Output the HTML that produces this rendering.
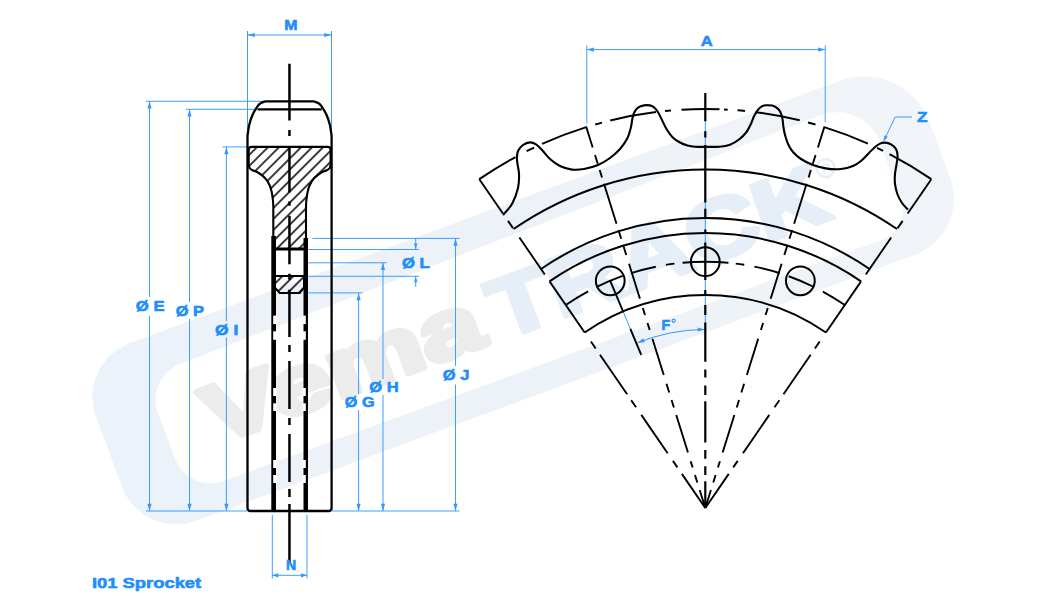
<!DOCTYPE html>
<html><head><meta charset="utf-8"><title>I01 Sprocket</title>
<style>
html,body{margin:0;padding:0;background:#fff;}
body{width:1050px;height:600px;overflow:hidden;font-family:"Liberation Sans",sans-serif;}
svg{display:block;}
text{font-family:"Liberation Sans",sans-serif;}
</style></head><body>
<svg width="1050" height="600" viewBox="0 0 1050 600">
<rect width="1050" height="600" fill="#fff"/>
<defs><linearGradient id="wg" gradientUnits="userSpaceOnUse" x1="-56" y1="0" x2="830" y2="0"><stop offset="0" stop-color="#ecf2f9"/><stop offset="0.55" stop-color="#edf2f8"/><stop offset="1" stop-color="#f1f5f9"/></linearGradient></defs>
<g transform="rotate(-20.3)">
<path d="M-54.50,424.00 A57,57 0 0 1 2.50,367.00 L759.50,367.00 A70,70 0 0 1 829.50,437.00 L829.50,496.50 A60,60 0 0 1 769.50,556.50 L3.50,556.50 A58,58 0 0 1 -54.50,498.50 Z" fill="url(#wg)"/>
<path d="M5.00,441.89 A38,38 0 0 1 42.38,403.89 L729.25,392.76 A46,46 0 0 1 776.00,438.75 L776.00,498.90 A32,32 0 0 1 743.90,530.90 L42.88,528.62 A38,38 0 0 1 5.00,490.62 Z" fill="#ffffff"/>
<text x="48" y="492" font-size="82" font-weight="bold" fill="#ececec" stroke="#ececec" stroke-width="6" stroke-linejoin="round" textLength="290" lengthAdjust="spacingAndGlyphs">Vema</text>
<text x="353" y="493" font-size="84" font-weight="bold" fill="#e6eef7" stroke="#e6eef7" stroke-width="5" stroke-linejoin="round" textLength="354" lengthAdjust="spacingAndGlyphs">TRACK</text>
<circle cx="716" cy="444" r="9" fill="none" stroke="#e6eef7" stroke-width="2.5"/>
<text x="711.5" y="449" font-size="13" font-weight="bold" fill="#e6eef7">R</text>
</g>
<line x1="146" y1="101.3" x2="265" y2="101.3" stroke="#3399ff" stroke-width="0.95" />
<line x1="186" y1="109.3" x2="257" y2="109.3" stroke="#3399ff" stroke-width="0.95" />
<line x1="222.5" y1="146.9" x2="248" y2="146.9" stroke="#3399ff" stroke-width="0.95" />
<line x1="146" y1="511.0" x2="247" y2="511.0" stroke="#3399ff" stroke-width="0.95" />
<line x1="332" y1="511.0" x2="459.5" y2="511.0" stroke="#3399ff" stroke-width="0.95" />
<line x1="312.3" y1="238.4" x2="459.5" y2="238.4" stroke="#3399ff" stroke-width="0.95" />
<line x1="307" y1="249.5" x2="419" y2="249.5" stroke="#3399ff" stroke-width="0.95" />
<line x1="307" y1="262.8" x2="386.6" y2="262.8" stroke="#3399ff" stroke-width="0.95" />
<line x1="307" y1="276.3" x2="419" y2="276.3" stroke="#3399ff" stroke-width="0.95" />
<line x1="307" y1="292.9" x2="362.6" y2="292.9" stroke="#3399ff" stroke-width="0.95" />
<line x1="149.5" y1="101.3" x2="149.5" y2="297" stroke="#3399ff" stroke-width="0.95" />
<line x1="149.5" y1="316" x2="149.5" y2="511.0" stroke="#3399ff" stroke-width="0.95" />
<polygon points="149.50,101.30 151.60,108.60 147.40,108.60" fill="#3399ff"/>
<polygon points="149.50,511.00 147.40,503.70 151.60,503.70" fill="#3399ff"/>
<line x1="189.5" y1="109.3" x2="189.5" y2="302" stroke="#3399ff" stroke-width="0.95" />
<line x1="189.5" y1="319" x2="189.5" y2="511.0" stroke="#3399ff" stroke-width="0.95" />
<polygon points="189.50,109.30 191.60,116.60 187.40,116.60" fill="#3399ff"/>
<polygon points="189.50,511.00 187.40,503.70 191.60,503.70" fill="#3399ff"/>
<line x1="226.4" y1="146.9" x2="226.4" y2="321" stroke="#3399ff" stroke-width="0.95" />
<line x1="226.4" y1="337.5" x2="226.4" y2="511.0" stroke="#3399ff" stroke-width="0.95" />
<polygon points="226.40,146.90 228.50,154.20 224.30,154.20" fill="#3399ff"/>
<polygon points="226.40,511.00 224.30,503.70 228.50,503.70" fill="#3399ff"/>
<line x1="358.6" y1="292.9" x2="358.6" y2="394" stroke="#3399ff" stroke-width="0.95" />
<line x1="358.6" y1="410" x2="358.6" y2="511.0" stroke="#3399ff" stroke-width="0.95" />
<polygon points="358.60,292.90 360.70,300.20 356.50,300.20" fill="#3399ff"/>
<polygon points="358.60,511.00 356.50,503.70 360.70,503.70" fill="#3399ff"/>
<line x1="383.0" y1="262.8" x2="383.0" y2="379" stroke="#3399ff" stroke-width="0.95" />
<line x1="383.0" y1="395" x2="383.0" y2="511.0" stroke="#3399ff" stroke-width="0.95" />
<polygon points="383.00,262.80 385.10,270.10 380.90,270.10" fill="#3399ff"/>
<polygon points="383.00,511.00 380.90,503.70 385.10,503.70" fill="#3399ff"/>
<line x1="455.5" y1="238.4" x2="455.5" y2="366" stroke="#3399ff" stroke-width="0.95" />
<line x1="455.5" y1="384.5" x2="455.5" y2="511.0" stroke="#3399ff" stroke-width="0.95" />
<polygon points="455.50,238.40 457.60,245.70 453.40,245.70" fill="#3399ff"/>
<polygon points="455.50,511.00 453.40,503.70 457.60,503.70" fill="#3399ff"/>
<line x1="415.7" y1="238.4" x2="415.7" y2="249.5" stroke="#3399ff" stroke-width="0.95" />
<polygon points="415.70,249.50 414.00,243.50 417.40,243.50" fill="#3399ff"/>
<line x1="415.7" y1="276.3" x2="415.7" y2="287" stroke="#3399ff" stroke-width="0.95" />
<polygon points="415.70,276.30 417.40,282.30 414.00,282.30" fill="#3399ff"/>
<line x1="247.5" y1="31" x2="247.5" y2="130" stroke="#3399ff" stroke-width="0.95" />
<line x1="331.5" y1="31" x2="331.5" y2="130" stroke="#3399ff" stroke-width="0.95" />
<line x1="247.5" y1="35" x2="331.5" y2="35" stroke="#3399ff" stroke-width="0.95" />
<polygon points="247.50,35.00 254.80,32.90 254.80,37.10" fill="#3399ff"/>
<polygon points="331.50,35.00 324.20,37.10 324.20,32.90" fill="#3399ff"/>
<line x1="272.3" y1="515" x2="272.3" y2="578.5" stroke="#3399ff" stroke-width="0.95" />
<line x1="307" y1="515" x2="307" y2="578.5" stroke="#3399ff" stroke-width="0.95" />
<line x1="272.3" y1="575.3" x2="307" y2="575.3" stroke="#3399ff" stroke-width="0.95" />
<polygon points="272.30,575.30 278.30,573.20 278.30,577.40" fill="#3399ff"/>
<polygon points="307.00,575.30 301.00,577.40 301.00,573.20" fill="#3399ff"/>
<defs><pattern id="h" width="7.8" height="7.8" patternUnits="userSpaceOnUse" patternTransform="translate(1.5,0) rotate(-45)"><line x1="-1" y1="3.9" x2="9" y2="3.9" stroke="#000" stroke-width="1.5"/></pattern></defs>
<path d="M247.5,508 L247.5,136 C247.78,134.17 248.37,128.50 249.20,125.00C250.03,121.50 251.12,118.12 252.50,115.00C253.88,111.88 256.08,108.30 257.50,106.30C258.92,104.30 259.67,103.83 261.00,103.00C262.33,102.17 264.75,101.58 265.50,101.30 L313.60,101.30C314.35,101.58 316.77,102.17 318.10,103.00C319.43,103.83 320.18,104.30 321.60,106.30C323.02,108.30 325.22,111.88 326.60,115.00C327.98,118.12 329.07,121.50 329.90,125.00C330.73,128.50 331.32,134.17 331.60,136.00 L331.6,508 Q331.6,511 328.6,511 L250.5,511 Q247.5,511 247.5,508 Z" fill="none" stroke="#000" stroke-width="2.3" stroke-linejoin="round"/>
<line x1="257.5" y1="109.3" x2="321.7" y2="109.3" stroke="#000" stroke-width="2.2" />
<path d="M251.5,146.9 L327.8,146.9 Q330.6,146.9 330.6,150 L330.6,164.5 C330.45,165.08 330.33,167.03 329.70,168.00C329.07,168.97 328.20,169.55 326.80,170.30C325.40,171.05 323.38,171.22 321.30,172.50C319.22,173.78 316.22,175.92 314.30,178.00C312.38,180.08 310.92,182.67 309.80,185.00C308.68,187.33 308.17,189.50 307.60,192.00C307.03,194.50 306.67,197.67 306.40,200.00C306.13,202.33 306.07,205.00 306.00,206.00 L306,248.6 L273.3,248.6 L273.3,206 C273.23,205.00 273.17,202.33 272.90,200.00C272.63,197.67 272.27,194.50 271.70,192.00C271.13,189.50 270.62,187.33 269.50,185.00C268.38,182.67 266.92,180.08 265.00,178.00C263.08,175.92 260.08,173.78 258.00,172.50C255.92,171.22 253.90,171.05 252.50,170.30C251.10,169.55 250.23,168.97 249.60,168.00C248.97,167.03 248.85,165.08 248.70,164.50 L248.7,150 Q248.7,146.9 251.5,146.9 Z" fill="url(#h)" stroke="#000" stroke-width="2.1" stroke-linejoin="round"/>
<path d="M275,276 L304,276 L304,287.7 L299.7,293 L279.7,293 L275,287.7 Z" fill="url(#h)" stroke="#000" stroke-width="2.0" stroke-linejoin="round"/>
<line x1="273.3" y1="249.3" x2="306" y2="249.3" stroke="#000" stroke-width="2.4" />
<line x1="273.65" y1="236" x2="273.65" y2="511" stroke="#000" stroke-width="4.7" />
<line x1="305.75" y1="238" x2="305.75" y2="511" stroke="#000" stroke-width="4.5" />
<rect x="273.2" y="315.6" width="3.6" height="8.5" fill="#fff"/>
<rect x="302.6" y="315.6" width="3.2" height="8.5" fill="#fff"/>
<rect x="273.2" y="331.3" width="3.6" height="8.5" fill="#fff"/>
<rect x="302.6" y="331.3" width="3.2" height="8.5" fill="#fff"/>
<rect x="273.2" y="388" width="3.6" height="8.0" fill="#fff"/>
<rect x="302.6" y="388" width="3.2" height="8.0" fill="#fff"/>
<rect x="273.2" y="403.3" width="3.6" height="7.7" fill="#fff"/>
<rect x="302.6" y="403.3" width="3.2" height="7.7" fill="#fff"/>
<rect x="273.2" y="460" width="3.6" height="8.0" fill="#fff"/>
<rect x="302.6" y="460" width="3.2" height="8.0" fill="#fff"/>
<rect x="273.2" y="475" width="3.6" height="8.0" fill="#fff"/>
<rect x="302.6" y="475" width="3.2" height="8.0" fill="#fff"/>
<path d="M289.45,63.8L289.45,120.5M289.45,130L289.45,136M289.45,146L289.45,192.5M289.45,201.6L289.45,205.8M289.45,215.7L289.45,264.3M289.45,273.7L289.45,279.7M289.45,289.7L289.45,337M289.45,345L289.45,352M289.45,361L289.45,409M289.45,418L289.45,425M289.45,434L289.45,482M289.45,489L289.45,497M289.45,504L289.45,562" stroke="#000" stroke-width="2.5" fill="none"/>
<text x="284.2" y="30.20" font-size="14.5" font-weight="bold" fill="#1f8efa" stroke="#1f8efa" stroke-width="0.6" textLength="13.3" lengthAdjust="spacingAndGlyphs" >M</text>
<text x="286" y="570.40" font-size="14.5" font-weight="bold" fill="#1f8efa" stroke="#1f8efa" stroke-width="0.6" textLength="10.2" lengthAdjust="spacingAndGlyphs" >N</text>
<text x="135.8" y="311.30" font-size="14.5" font-weight="bold" fill="#1f8efa" stroke="#1f8efa" stroke-width="0.6" textLength="28.8" lengthAdjust="spacingAndGlyphs" >Ø E</text>
<text x="175.7" y="315.60" font-size="14.5" font-weight="bold" fill="#1f8efa" stroke="#1f8efa" stroke-width="0.6" textLength="28.3" lengthAdjust="spacingAndGlyphs" >Ø P</text>
<text x="215.1" y="334.50" font-size="14.5" font-weight="bold" fill="#1f8efa" stroke="#1f8efa" stroke-width="0.6" textLength="23.2" lengthAdjust="spacingAndGlyphs" >Ø I</text>
<text x="402.0" y="268.20" font-size="14.5" font-weight="bold" fill="#1f8efa" stroke="#1f8efa" stroke-width="0.6" textLength="27.8" lengthAdjust="spacingAndGlyphs" >Ø L</text>
<text x="344.8" y="407.20" font-size="14.5" font-weight="bold" fill="#1f8efa" stroke="#1f8efa" stroke-width="0.6" textLength="29.8" lengthAdjust="spacingAndGlyphs" >Ø G</text>
<text x="369.2" y="391.50" font-size="14.5" font-weight="bold" fill="#1f8efa" stroke="#1f8efa" stroke-width="0.6" textLength="29.4" lengthAdjust="spacingAndGlyphs" >Ø H</text>
<text x="442.8" y="380.10" font-size="14.5" font-weight="bold" fill="#1f8efa" stroke="#1f8efa" stroke-width="0.6" textLength="26.6" lengthAdjust="spacingAndGlyphs" >Ø J</text>
<text x="92" y="587.90" font-size="15.3" font-weight="bold" fill="#1f8efa" stroke="#1f8efa" stroke-width="0.6" textLength="109.2" lengthAdjust="spacingAndGlyphs" >I01 Sprocket</text>
<line x1="705.3" y1="118" x2="705.3" y2="332" stroke="#3399ff" stroke-width="1.0" />
<line x1="610.25" y1="280.78" x2="641.24" y2="354.86" stroke="#3399ff" stroke-width="1.0" />
<line x1="586.8" y1="45.3" x2="586.8" y2="123.5" stroke="#3399ff" stroke-width="0.95" />
<line x1="825.2" y1="45.3" x2="825.2" y2="122.5" stroke="#3399ff" stroke-width="0.95" />
<line x1="586.8" y1="49.6" x2="825.2" y2="49.6" stroke="#3399ff" stroke-width="0.95" />
<polygon points="586.80,49.60 593.80,47.50 593.80,51.70" fill="#3399ff"/>
<polygon points="825.20,49.60 818.20,51.70 818.20,47.50" fill="#3399ff"/>
<text x="700.7" y="45.50" font-size="14.5" font-weight="bold" fill="#1f8efa" stroke="#1f8efa" stroke-width="0.6" textLength="12" lengthAdjust="spacingAndGlyphs" >A</text>
<path d="M637.57,342.85 A178.5,178.5 0 0 1 704.68,329.50" fill="none" stroke="#3399ff" stroke-width="1.0" />
<polygon points="637.57,342.85 643.25,338.25 644.84,342.14" fill="#3399ff"/>
<polygon points="704.68,329.50 697.68,331.60 697.68,327.40" fill="#3399ff"/>
<text x="661.4" y="329.60" font-size="14.5" font-weight="bold" fill="#1f8efa" stroke="#1f8efa" stroke-width="0.6" textLength="8.6" lengthAdjust="spacingAndGlyphs" >F</text>
<circle cx="673.6" cy="320.8" r="1.6" fill="none" stroke="#1f8efa" stroke-width="1.1"/>
<path d="M912,117 L895.2,117 L884.2,140" fill="none" stroke="#3399ff" stroke-width="1"/>
<polygon points="883.30,141.80 884.48,135.16 887.73,136.71" fill="#3399ff"/>
<text x="917" y="122.30" font-size="14.5" font-weight="bold" fill="#1f8efa" stroke="#1f8efa" stroke-width="0.6" textLength="10.5" lengthAdjust="spacingAndGlyphs" >Z</text>
<path d="M513.57,229.03 A338.5,338.5 0 0 1 897.03,229.03" fill="none" stroke="#000" stroke-width="2.0" />
<path d="M541.04,269.00 A290.0,290.0 0 0 1 869.56,269.00" fill="none" stroke="#000" stroke-width="2.0" />
<path d="M549.54,281.37 A275.0,275.0 0 0 1 861.06,281.37" fill="none" stroke="#000" stroke-width="2.0" />
<path d="M584.66,332.46 A213.0,213.0 0 0 1 825.94,332.46" fill="none" stroke="#000" stroke-width="2.0" />
<path d="M479.30,179.17 A399.0,399.0 0 0 1 515.53,157.02" fill="none" stroke="#000" stroke-width="2.0" />
<path d="M542.06,143.92 A399.0,399.0 0 0 1 586.32,127.15" fill="none" stroke="#000" stroke-width="2.0" />
<path d="M824.28,127.15 A399.0,399.0 0 0 1 867.91,143.64" fill="none" stroke="#000" stroke-width="2.0" />
<path d="M889.54,154.08 A399.0,399.0 0 0 1 931.30,179.17" fill="none" stroke="#000" stroke-width="2.0" />
<path d="M526.64,151.23 A399.0,399.0 0 0 1 534.15,147.57" fill="none" stroke="#000" stroke-width="2.0" />
<path d="M877.07,147.87 A399.0,399.0 0 0 1 883.08,150.80" fill="none" stroke="#000" stroke-width="2.0" />
<path d="M595.25,124.48 A399.0,399.0 0 0 1 602.00,122.60" fill="none" stroke="#000" stroke-width="2.0" />
<path d="M610.25,120.49 A399.0,399.0 0 0 1 656.00,112.06" fill="none" stroke="#000" stroke-width="2.0" />
<path d="M665.00,111.04 A399.0,399.0 0 0 1 671.00,110.48" fill="none" stroke="#000" stroke-width="2.0" />
<path d="M681.50,109.71 A399.0,399.0 0 0 1 719.50,109.25" fill="none" stroke="#000" stroke-width="2.0" />
<path d="M724.00,109.44 A399.0,399.0 0 0 1 727.70,109.63" fill="none" stroke="#000" stroke-width="2.0" />
<path d="M737.50,110.30 A399.0,399.0 0 0 1 745.00,110.98" fill="none" stroke="#000" stroke-width="2.0" />
<path d="M755.50,112.17 A399.0,399.0 0 0 1 799.70,120.33" fill="none" stroke="#000" stroke-width="2.0" />
<path d="M808.00,122.44 A399.0,399.0 0 0 1 815.50,124.52" fill="none" stroke="#000" stroke-width="2.0" />
<path d="M566.15,304.77 A246.3,246.3 0 0 1 588.15,291.34" fill="none" stroke="#000" stroke-width="1.9" />
<path d="M597.33,286.63 A246.3,246.3 0 0 1 622.68,275.97" fill="none" stroke="#000" stroke-width="1.9" />
<path d="M631.24,273.10 A246.3,246.3 0 0 1 655.77,266.73" fill="none" stroke="#000" stroke-width="1.9" />
<path d="M665.92,264.87 A246.3,246.3 0 0 1 674.43,263.64" fill="none" stroke="#000" stroke-width="1.9" />
<path d="M682.55,262.75 A246.3,246.3 0 0 1 728.48,262.79" fill="none" stroke="#000" stroke-width="1.9" />
<path d="M735.74,263.59 A246.3,246.3 0 0 1 744.25,264.80" fill="none" stroke="#000" stroke-width="1.9" />
<path d="M754.40,266.64 A246.3,246.3 0 0 1 779.77,273.23" fill="none" stroke="#000" stroke-width="1.9" />
<path d="M788.73,276.26 A246.3,246.3 0 0 1 814.04,287.01" fill="none" stroke="#000" stroke-width="1.9" />
<path d="M822.82,291.55 A246.3,246.3 0 0 1 844.81,305.02" fill="none" stroke="#000" stroke-width="1.9" />
<circle cx="610.25" cy="280.78" r="14.4" fill="none" stroke="#000" stroke-width="2.0"/>
<circle cx="705.30" cy="261.70" r="14.4" fill="none" stroke="#000" stroke-width="2.0"/>
<circle cx="800.35" cy="280.78" r="14.4" fill="none" stroke="#000" stroke-width="2.0"/>
<path d="M705.30,508.00L681.85,473.88M677.38,467.37L672.90,460.86M667.63,453.20L641.30,414.87M636.09,407.29L631.21,400.20M627.14,394.27L599.95,354.71M595.70,348.53L590.89,341.53M584.66,332.46L549.54,281.37M544.78,274.44L519.41,237.52M512.95,228.13L507.96,220.87M502.92,213.54L479.30,179.17" fill="none" stroke="#000" stroke-width="1.9"/>
<path d="M705.30,508.00L728.75,473.88M733.22,467.37L737.70,460.86M742.97,453.20L769.30,414.87M774.51,407.29L779.39,400.20M783.46,394.27L810.65,354.71M814.90,348.53L819.71,341.53M825.94,332.46L861.06,281.37M865.82,274.44L891.19,237.52M897.65,228.13L902.64,220.87M907.68,213.54L931.30,179.17" fill="none" stroke="#000" stroke-width="1.9"/>
<path d="M592.67,147.50L586.14,126.58M597.75,163.75L595.01,155.00M602.04,177.50L599.70,170.00M616.49,223.75L604.00,183.75M621.18,238.75L618.45,230.00M626.26,255.00L623.13,245.00M639.93,298.75L628.99,263.75M645.00,315.00L642.82,308.00M649.69,330.00L647.50,323.00M663.75,375.00L652.42,338.75M669.22,392.50L666.48,383.75M673.90,407.50L671.56,400.00M687.96,452.50L676.24,415.00M692.65,467.50L690.69,461.25M697.33,482.50L694.99,475.00M705.30,508.00L699.68,490.00" fill="none" stroke="#000" stroke-width="1.9"/>
<path d="M817.93,147.50L824.46,126.58M812.85,163.75L815.59,155.00M808.56,177.50L810.90,170.00M794.11,223.75L806.60,183.75M789.42,238.75L792.15,230.00M784.34,255.00L787.47,245.00M770.67,298.75L781.61,263.75M765.60,315.00L767.78,308.00M760.91,330.00L763.10,323.00M746.85,375.00L758.18,338.75M741.38,392.50L744.12,383.75M736.70,407.50L739.04,400.00M722.64,452.50L734.36,415.00M717.95,467.50L719.91,461.25M713.27,482.50L715.61,475.00M705.30,508.00L710.92,490.00" fill="none" stroke="#000" stroke-width="1.9"/>
<path d="M641.24,354.86L630.36,328.84M623.10,311.50L610.25,280.78" fill="none" stroke="#000" stroke-width="1.9"/>
<path d="M705.3,93L705.3,121.3M705.3,131.3L705.3,137.5M705.3,145L705.3,202.5M705.3,208.8L705.3,218M705.3,229.5L705.3,233.8M705.3,242.5L705.3,280M705.3,290L705.3,296M705.3,305L705.3,315M705.3,322.5L705.3,361.7M705.3,369.6L705.3,377.5M705.3,385.4L705.3,394.9M705.3,401.2L705.3,442.5M705.3,450L705.3,458.75M705.3,466.25L705.3,475M705.3,481.25L705.3,508" stroke="#000" stroke-width="2.2" fill="none"/>
<path d="M503.00,215.00C504.50,213.17 509.50,208.50 512.00,204.00C514.50,199.50 516.83,193.00 518.00,188.00C519.17,183.00 519.17,178.67 519.00,174.00C518.83,169.33 517.17,163.83 517.00,160.00C516.83,156.17 517.00,153.50 518.00,151.00C519.00,148.50 521.00,146.43 523.00,145.00C525.00,143.57 527.83,142.50 530.00,142.40C532.17,142.30 534.00,143.13 536.00,144.40C538.00,145.67 539.67,147.57 542.00,150.00C544.33,152.43 547.00,156.33 550.00,159.00C553.00,161.67 556.33,164.23 560.00,166.00C563.67,167.77 568.00,169.10 572.00,169.60C576.00,170.10 579.67,169.77 584.00,169.00C588.33,168.23 593.67,166.83 598.00,165.00C602.33,163.17 606.33,160.67 610.00,158.00C613.67,155.33 617.08,152.33 620.00,149.00C622.92,145.67 625.67,141.67 627.50,138.00C629.33,134.33 630.17,130.33 631.00,127.00C631.83,123.67 631.92,120.50 632.50,118.00C633.08,115.50 633.58,113.72 634.50,112.00C635.42,110.28 636.42,108.80 638.00,107.70C639.58,106.60 642.00,105.78 644.00,105.40C646.00,105.02 648.25,105.02 650.00,105.40C651.75,105.78 653.13,106.52 654.50,107.70C655.87,108.88 656.95,110.45 658.20,112.50C659.45,114.55 660.62,117.25 662.00,120.00C663.38,122.75 664.75,126.13 666.50,129.00C668.25,131.87 670.25,134.95 672.50,137.20C674.75,139.45 677.50,141.12 680.00,142.50C682.50,143.88 685.00,144.78 687.50,145.50C690.00,146.22 692.03,146.58 695.00,146.80C697.97,147.02 703.58,146.80 705.30,146.80" fill="none" stroke="#000" stroke-width="2.1" stroke-linejoin="round"/>
<path d="M705.30,146.80C707.67,146.78 715.38,147.05 719.50,146.70C723.62,146.35 726.75,145.90 730.00,144.70C733.25,143.50 736.25,141.62 739.00,139.50C741.75,137.38 744.50,134.63 746.50,132.00C748.50,129.37 749.75,126.33 751.00,123.70C752.25,121.07 752.88,118.45 754.00,116.20C755.12,113.95 756.45,111.80 757.70,110.20C758.95,108.60 760.12,107.42 761.50,106.60C762.88,105.78 764.25,105.47 766.00,105.30C767.75,105.13 770.25,105.20 772.00,105.60C773.75,106.00 775.13,106.68 776.50,107.70C777.87,108.72 779.22,109.90 780.20,111.70C781.18,113.50 781.85,115.87 782.40,118.50C782.95,121.13 783.02,124.58 783.50,127.50C783.98,130.42 784.47,133.08 785.30,136.00C786.13,138.92 787.22,142.33 788.50,145.00C789.78,147.67 790.92,149.67 793.00,152.00C795.08,154.33 797.67,156.83 801.00,159.00C804.33,161.17 808.67,163.40 813.00,165.00C817.33,166.60 822.33,167.93 827.00,168.60C831.67,169.27 836.67,169.43 841.00,169.00C845.33,168.57 849.67,167.33 853.00,166.00C856.33,164.67 858.33,163.17 861.00,161.00C863.67,158.83 866.67,155.33 869.00,153.00C871.33,150.67 873.17,148.57 875.00,147.00C876.83,145.43 878.33,144.33 880.00,143.60C881.67,142.87 883.17,142.47 885.00,142.60C886.83,142.73 889.17,143.33 891.00,144.40C892.83,145.47 894.90,147.07 896.00,149.00C897.10,150.93 897.50,153.50 897.60,156.00C897.70,158.50 897.03,161.00 896.60,164.00C896.17,167.00 895.27,170.67 895.00,174.00C894.73,177.33 894.60,180.67 895.00,184.00C895.40,187.33 896.23,190.83 897.40,194.00C898.57,197.17 900.23,200.40 902.00,203.00C903.77,205.60 907.00,208.50 908.00,209.60" fill="none" stroke="#000" stroke-width="2.1" stroke-linejoin="round"/>
</svg>
</body></html>
